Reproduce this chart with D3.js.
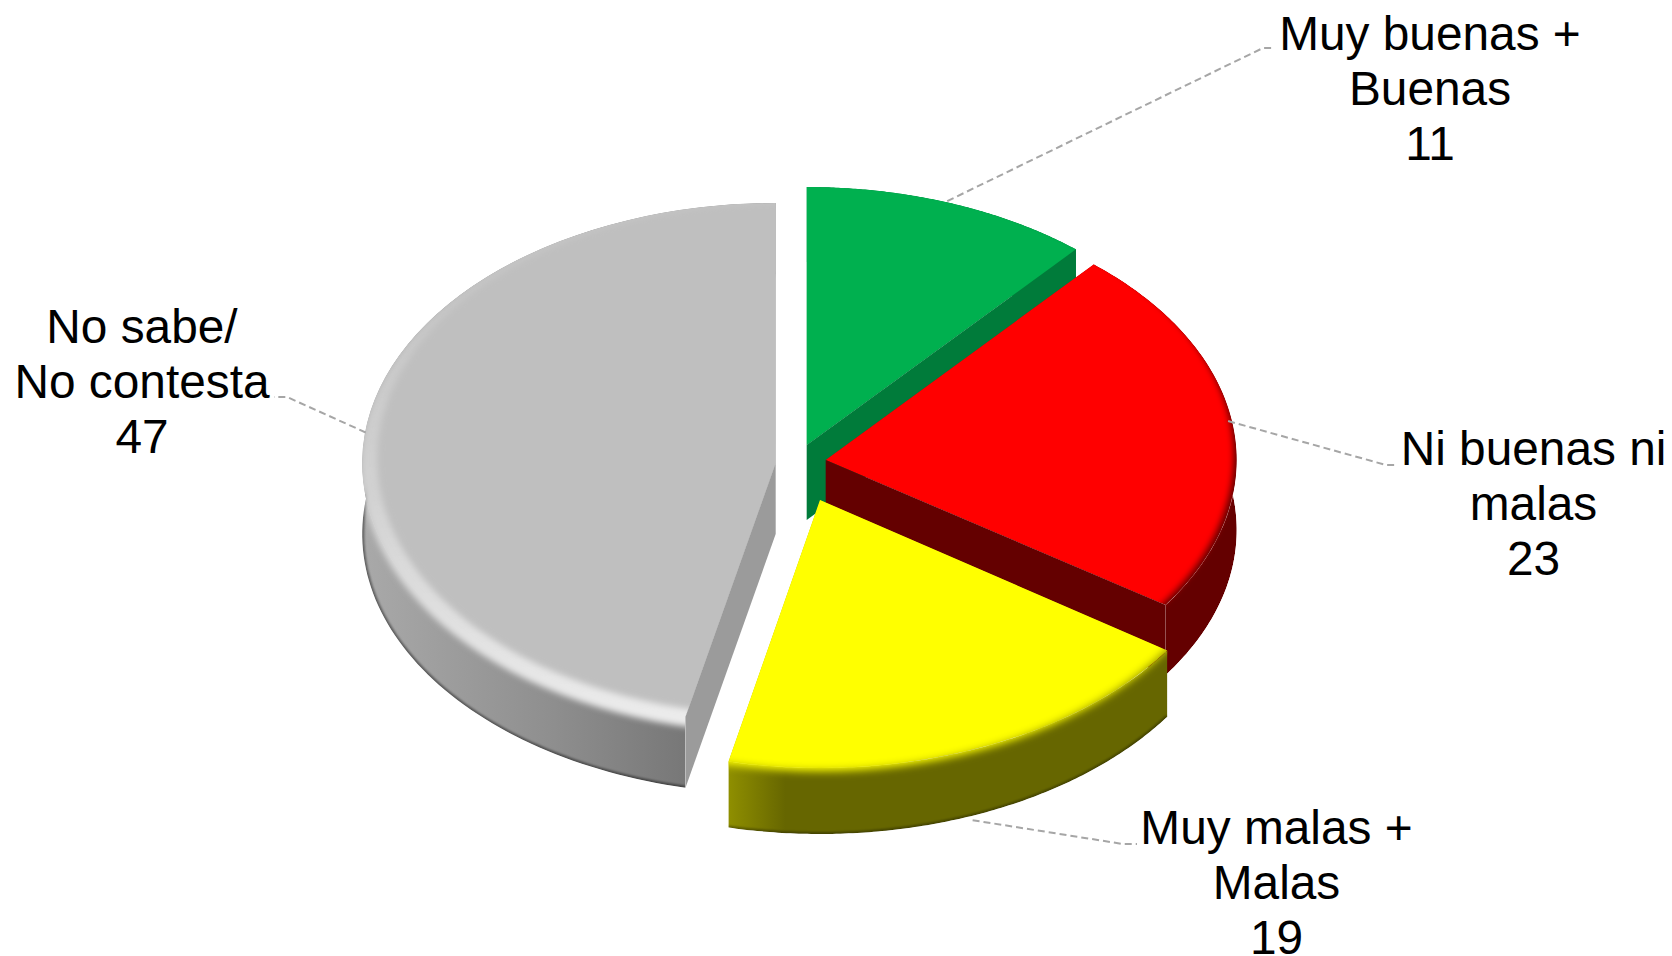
<!DOCTYPE html>
<html><head><meta charset="utf-8">
<script src="https://cdn.jsdelivr.net/npm/d3@7/dist/d3.min.js"></script>
<style>html,body{margin:0;padding:0;background:#fff}svg{display:block}</style>
</head><body><div id="chart"></div>
<script>
// ---- data ----
const categories = ["Muy buenas + Buenas", "Ni buenas ni malas", "Muy malas + Malas", "No sabe/ No contesta"];
const labelLines = [["Muy buenas +", "Buenas"], ["Ni buenas ni", "malas"], ["Muy malas +", "Malas"], ["No sabe/", "No contesta"]];
const values = [11.3, 23.2, 19.0, 46.5];   // slice shares; labels show them rounded

// ---- layout and style ----
const W = 1672, H = 956;
const geometry = [
  {cx: 806.7, cy: 445, rx: 413, ry: 258, depth: 75},
  {cx: 825.7, cy: 460, rx: 411, ry: 258, depth: 70},
  {cx: 820,   cy: 500, rx: 420, ry: 268, depth: 66},
  {cx: 775.7, cy: 463, rx: 413.5, ry: 260, depth: 71}
];
const looks = [
  {top: "#00b04f", cut: "#007b3a", side: [["0", "#007b3a"], ["1", "#007b3a"]], rimIn: 0, front: 6, back: 6, edge: 0, blur: "soft"},
  {top: "#ff0000", cut: "#640000", side: [["0", "#640000"], ["1", "#640000"]], rimIn: 3, front: 0, back: 8, edge: 0, blur: "soft"},
  {top: "#ffff00", cut: "#666600", side: [["0", "#8f8f00"], ["0.13", "#666600"], ["1", "#666600"]], rimIn: 4, front: 3, back: 4, edge: .35, blur: "softer"},
  {top: "#bfbfbf", cut: "#9b9b9b", side: [["0", "#a9a9a9"], ["0.45", "#8f8f8f"], ["1", "#686868"]], rimIn: -2, front: 10, back: 6, edge: .45, blur: "soft",
   glow: [["0", "#c6c6c6"], ["0.45", "#d2d2d2"], ["0.8", "#e2e2e2"], ["1", "#ececec"]], flatIn: 15, flatFront: -8}
];
const labelAnchors = [
  {x: 1430, y: 49.5, knee: [1263, 48],  end: [1275, 48],  dx: -3, dy: -2},
  {x: 1533.5, y: 465, knee: [1386, 465], end: [1397, 465], dx: -5, dy: -5},
  {x: 1276.5, y: 844, knee: [1123, 844], end: [1137, 844], dx: -2, dy: 71},
  {x: 142,  y: 343, knee: [287, 397],  end: [274, 397],  dx: 1, dy: -2}
];
const labelFont = "'Liberation Sans', Arial, sans-serif", labelSize = 47.8, lineStep = 55;

// ---- build ----
const svg = d3.select("#chart").append("svg").attr("width", W).attr("height", H).attr("viewBox", `0 0 ${W} ${H}`);
const defs = svg.append("defs");
[["soft", 3], ["softer", 4.2]].forEach(([id, sd]) =>
  defs.append("filter").attr("id", id).attr("x", "-5%").attr("y", "-5%").attr("width", "110%").attr("height", "110%")
    .append("feGaussianBlur").attr("stdDeviation", sd));
defs.append("filter").attr("id", "softEdge").attr("filterUnits", "userSpaceOnUse")
  .attr("x", 0).attr("y", 0).attr("width", W).attr("height", H)
  .append("feGaussianBlur").attr("stdDeviation", 1.2);

const pie = d3.pie().sort(null).value(d => d);
const arcs = pie(values);
const unitArc = d3.arc().innerRadius(0).outerRadius(1);
const line = d3.line().x(d => d[0]).y(d => d[1]);

const slices = arcs.map((a, i) => ({a, i, g: geometry[i], k: looks[i], mid: (a.startAngle + a.endAngle) / 2}));
const point = (g, t, dy = 0) => [g.cx + g.rx * Math.sin(t), g.cy - g.ry * Math.cos(t) + dy];
const sampled = (t0, t1) => d3.range(0, 121).map(j => t0 + (t1 - t0) * j / 120);

function wall(s) {
  const ts = sampled(s.a.startAngle, s.a.endAngle);
  return line(ts.map(t => point(s.g, t)).concat(ts.slice().reverse().map(t => point(s.g, t, s.g.depth)))) + "Z";
}
function bottomEdge(s) { return line(sampled(s.a.startAngle, s.a.endAngle).map(t => point(s.g, t, s.g.depth))); }
function cutFace(s, t) {
  const p = point(s.g, t), c = [s.g.cx, s.g.cy];
  return line([c, p, [p[0], p[1] + s.g.depth], [c[0], c[1] + s.g.depth]]) + "Z";
}
// a radial wall faces the viewer when its outward normal points down the screen
const cutVisible = (t, sign) => Math.cos(t + sign * Math.PI / 2) < -1e-6;

const order = [3, 0, 1, 2];
order.forEach(idx => {
  const s = slices[idx], {g, k, i} = s;
  const grad = defs.append("linearGradient").attr("id", "side" + i).attr("gradientUnits", "userSpaceOnUse")
    .attr("x1", d3.min(sampled(s.a.startAngle, s.a.endAngle), t => point(g, t)[0])).attr("y1", 0)
    .attr("x2", d3.max(sampled(s.a.startAngle, s.a.endAngle), t => point(g, t)[0])).attr("y2", 0);
  k.side.forEach(([o, c]) => grad.append("stop").attr("offset", o).attr("stop-color", c));

  const sectorTransform = `translate(${g.cx},${g.cy}) scale(${g.rx},${g.ry})`;
  const sector = unitArc(s.a);
  const clip = defs.append("clipPath").attr("id", "sil" + i);
  clip.append("path").attr("d", sector).attr("transform", sectorTransform);
  clip.append("path").attr("d", wall(s));

  const root = svg.append("g").attr("class", "slice").attr("data-category", categories[i]);
  const body = root.append("g").attr("clip-path", `url(#sil${i})`);
  body.append("path").attr("d", sector).attr("transform", sectorTransform).attr("fill", `url(#side${i})`);
  body.append("path").attr("d", wall(s)).attr("fill", `url(#side${i})`);
  if (k.edge) body.append("path").attr("d", bottomEdge(s)).attr("fill", "none")
    .attr("stroke", "#000").attr("stroke-opacity", k.edge).attr("stroke-width", 4).attr("filter", "url(#softEdge)");
  // rim of the bevel, then the flat top
  const ry = g.ry + (k.front + k.back) / 2, cy = g.cy + (k.front - k.back) / 2;
  let rimFill = k.top;
  if (k.glow) {
    const gg = defs.append("linearGradient").attr("id", "glow" + i).attr("gradientUnits", "userSpaceOnUse")
      .attr("x1", 0).attr("y1", g.cy - g.ry * 0.6).attr("x2", 0).attr("y2", g.cy + g.ry);
    k.glow.forEach(([o, c]) => gg.append("stop").attr("offset", o).attr("stop-color", c));
    rimFill = `url(#glow${i})`;
  }
  body.append("ellipse").attr("cx", g.cx).attr("cy", cy).attr("rx", g.rx - k.rimIn).attr("ry", ry)
    .attr("fill", rimFill).attr("filter", `url(#${k.blur})`);
  if (k.glow) {
    const fy = g.ry + k.flatFront / 2, fc = g.cy + k.flatFront / 2;
    body.append("ellipse").attr("cx", g.cx).attr("cy", fc).attr("rx", g.rx - k.flatIn).attr("ry", fy)
      .attr("fill", k.top).attr("filter", `url(#${k.blur})`);
  }
  // cut walls
  if (cutVisible(s.a.startAngle, -1)) root.append("path").attr("d", cutFace(s, s.a.startAngle)).attr("fill", k.cut);
  if (cutVisible(s.a.endAngle, 1)) root.append("path").attr("d", cutFace(s, s.a.endAngle)).attr("fill", k.cut);
});

// leaders
const leaderG = svg.append("g");
slices.forEach(s => {
  const L = labelAnchors[s.i];
  const p = point(s.g, s.mid);
  leaderG.append("path").attr("d", line([[p[0] + L.dx, p[1] + L.dy], L.knee, L.end])).attr("fill", "none")
    .attr("stroke", "#a6a6a6").attr("stroke-width", 2).attr("stroke-dasharray", "7 4");
});

// labels
slices.forEach(s => {
  const L = labelAnchors[s.i];
  const t = svg.append("text").attr("text-anchor", "middle").attr("font-family", labelFont)
    .attr("font-size", labelSize).attr("fill", "#000");
  labelLines[s.i].concat([String(Math.round(values[s.i]))]).forEach((txt, j) => {
    t.append("tspan").attr("x", L.x).attr("y", L.y + j * lineStep).text(txt);
  });
});
</script></body></html>
